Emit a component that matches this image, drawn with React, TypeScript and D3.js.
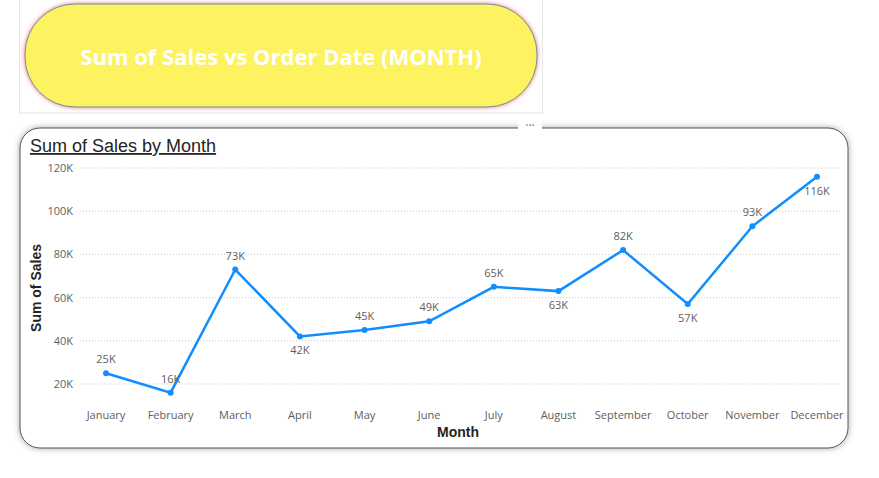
import { useEffect, useRef } from 'react';
import * as d3 from 'd3';

const months = ['January', 'February', 'March', 'April', 'May', 'June', 'July', 'August', 'September', 'October', 'November', 'December'];
const sales = [25, 16, 73, 42, 45, 49, 65, 63, 82, 57, 93, 116];
const labelBelow = [false, false, false, true, false, false, false, true, false, true, false, true];
const yTicks = [20, 40, 60, 80, 100, 120];

const App = () => {
  const ref = useRef<SVGSVGElement>(null);

  useEffect(() => {
    const svg = d3.select(ref.current);
    svg.selectAll('*').remove();
    const font = 'Segoe UI, "Open Sans", sans-serif';

    const defs = svg.append('defs');
    const glow = defs.append('filter').attr('id', 'glow').attr('x', '-10%').attr('y', '-20%').attr('width', '120%').attr('height', '140%');
    glow.append('feDropShadow').attr('dx', 0).attr('dy', 0).attr('stdDeviation', 2).attr('flood-color', '#e8606a').attr('flood-opacity', 0.9);
    const sh = defs.append('filter').attr('id', 'sh').attr('x', '-5%').attr('y', '-5%').attr('width', '110%').attr('height', '110%');
    sh.append('feDropShadow').attr('dx', 0).attr('dy', 0).attr('stdDeviation', 3).attr('flood-color', '#000').attr('flood-opacity', 0.35);

    // Header card
    svg.append('rect').attr('x', 19.5).attr('y', -1).attr('width', 523).attr('height', 114).attr('fill', '#fff').attr('stroke', '#e6e6e6');
    svg.append('rect').attr('x', 25).attr('y', 4).attr('width', 512).attr('height', 103).attr('rx', 50)
      .attr('fill', '#fdf25e').attr('stroke', '#6a8fa0').attr('stroke-width', 1).attr('filter', 'url(#glow)');
    svg.append('text').attr('x', 281).attr('y', 65).attr('text-anchor', 'middle').attr('fill', '#fff')
      .attr('font-family', font).attr('font-weight', 'bold').attr('font-size', 22).text('Sum of Sales vs Order Date (MONTH)');

    // Chart card
    svg.append('rect').attr('x', 20).attr('y', 128).attr('width', 828).attr('height', 320).attr('rx', 20)
      .attr('fill', '#fff').attr('stroke', '#555').attr('filter', 'url(#sh)');
    svg.append('rect').attr('x', 518).attr('y', 120).attr('width', 24).attr('height', 14).attr('fill', '#fff');
    svg.append('text').attr('x', 530).attr('y', 130).attr('text-anchor', 'middle').attr('fill', '#666').attr('font-size', 12).attr('font-family', font).text('···');
    svg.append('text').attr('x', 30).attr('y', 152).attr('font-family', '"Liberation Sans", Arial, sans-serif').attr('font-size', 18)
      .attr('fill', '#252423').attr('text-decoration', 'underline').text('Sum of Sales by Month');

    const x = d3.scalePoint().domain(months).range([106, 817]);
    const y = d3.scaleLinear().domain([20, 120]).range([384, 168]);

    const g = svg.append('g');
    yTicks.forEach((t) => {
      g.append('line').attr('x1', 80).attr('x2', 840).attr('y1', y(t)).attr('y2', y(t))
        .attr('stroke', '#c8c8c8').attr('stroke-dasharray', '1,2');
      g.append('text').attr('x', 73).attr('y', y(t) + 4).attr('text-anchor', 'end').attr('font-size', 11)
        .attr('font-family', font).attr('fill', '#605e5c').text(`${t}K`);
    });
    months.forEach((m) => {
      g.append('text').attr('x', x(m)!).attr('y', 419).attr('text-anchor', 'middle').attr('font-size', 11)
        .attr('font-family', font).attr('fill', '#605e5c').text(m);
    });
    g.append('text').attr('x', 458).attr('y', 437).attr('text-anchor', 'middle').attr('font-size', 14).attr('font-weight', 'bold')
      .attr('font-family', '"Liberation Sans", Arial, sans-serif').attr('fill', '#252423').text('Month');
    g.append('text').attr('transform', 'translate(41,288) rotate(-90)').attr('text-anchor', 'middle').attr('font-size', 14).attr('font-weight', 'bold')
      .attr('font-family', '"Liberation Sans", Arial, sans-serif').attr('fill', '#252423').text('Sum of Sales');

    const line = d3.line<number>().x((_, i) => x(months[i])!).y((d) => y(d));
    g.append('path').datum(sales).attr('d', line).attr('fill', 'none').attr('stroke', '#118dff').attr('stroke-width', 2.5);
    sales.forEach((v, i) => {
      g.append('circle').attr('cx', x(months[i])!).attr('cy', y(v)).attr('r', 3).attr('fill', '#118dff');
      g.append('text').attr('x', x(months[i])!).attr('y', labelBelow[i] ? y(v) + 18 : y(v) - 10)
        .attr('text-anchor', 'middle').attr('font-size', 11).attr('font-family', font).attr('fill', '#605e5c').text(`${v}K`);
    });
  }, []);

  return <svg ref={ref} width={879} height={478} style={{ position: 'absolute', left: 0, top: 0 }} />;
};

export default App;
